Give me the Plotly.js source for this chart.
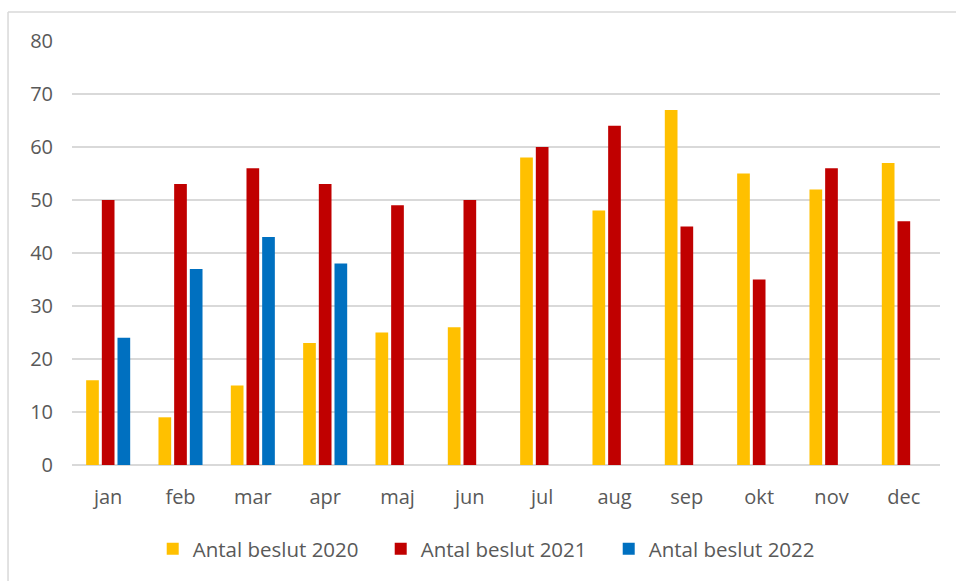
<!DOCTYPE html>
<html>
<head>
<meta charset="utf-8">
<script src="https://cdn.plot.ly/plotly-3.0.1.min.js"></script>
<style>html,body{margin:0;padding:0;background:#fff;}#chart{width:956px;height:581px;}</style>
</head>
<body>
<div id="chart"></div>
<script>
const months = ["jan","feb","mar","apr","maj","jun","jul","aug","sep","okt","nov","dec"];
const beslut2020 = [16, 9, 15, 23, 25, 26, 58, 48, 67, 55, 52, 57];
const beslut2021 = [50, 53, 56, 53, 49, 50, 60, 64, 45, 35, 56, 46];
const beslut2022 = [24, 37, 43, 38, null, null, null, null, null, null, null, null];
const seriesNames = ["Antal beslut 2020", "Antal beslut 2021", "Antal beslut 2022"];
const colors = ["#FFC000", "#C00000", "#0070C0"];

const FONT = "Open Sans, Liberation Sans, sans-serif";
const data = [beslut2020, beslut2021, beslut2022].map((v, i) => ({
  type: "bar", x: months, y: v, name: seriesNames[i],
  marker: {color: colors[i]}, hoverinfo: "x+y+name"
}));

const layout = {
  width: 956, height: 581,
  margin: {l: 72, r: 16, t: 41, b: 116},
  paper_bgcolor: "#fff", plot_bgcolor: "#fff",
  font: {family: FONT, size: 20, color: "#595959"},
  barmode: "group", bargap: 0.35, bargroupgap: 0.19,
  xaxis: {
    showgrid: false, showline: false, zeroline: false, ticks: "",
    ticklabelstandoff: 18, tickfont: {size: 20, color: "#595959"}
  },
  yaxis: {
    range: [0, 80], dtick: 10, showgrid: true, gridcolor: "#d9d9d9", gridwidth: 1.5,
    zeroline: true, zerolinecolor: "#d9d9d9", zerolinewidth: 1.5, showline: false, ticks: "",
    ticklabelstandoff: 18, tickfont: {size: 20, color: "#595959"}
  },
  legend: {
    orientation: "h", x: 0.487, xanchor: "center", y: -0.198, yanchor: "middle",
    font: {size: 20.5, color: "#595959"}, itemclick: false, traceorder: "normal",
    entrywidth: 183, entrywidthmode: "pixels"
  },
  shapes: [
    {type: "line", xref: "paper", yref: "paper", x0: -0.0737, x1: 1.05, y0: 1.0684, y1: 1.0684,
     line: {color: "#d9d9d9", width: 1.5}},
    {type: "line", xref: "paper", yref: "paper", x0: -0.0737, x1: -0.0737, y0: 1.0684, y1: -0.3,
     line: {color: "#d9d9d9", width: 1.5}}
  ],
  showlegend: true
};

Plotly.newPlot("chart", data, layout, {displayModeBar: false, staticPlot: true});
</script>
</body>
</html>
